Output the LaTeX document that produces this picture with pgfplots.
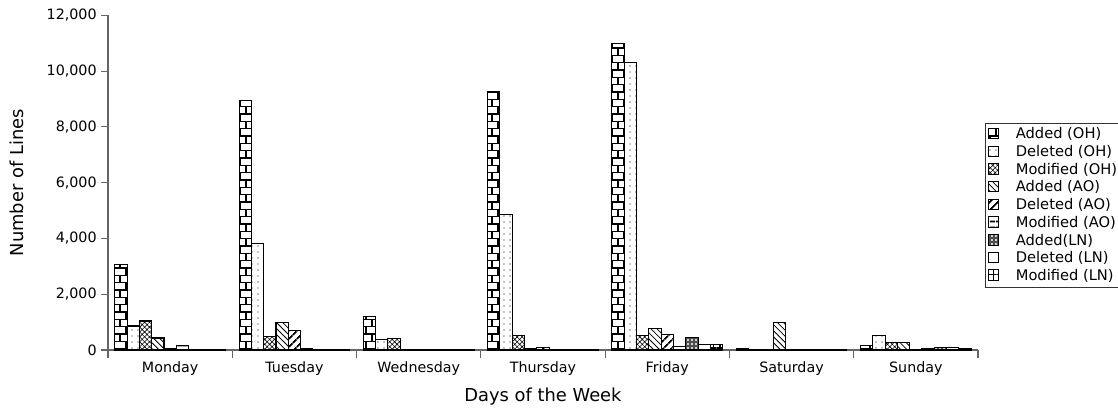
\documentclass[border=0pt]{standalone}
\usepackage{fontspec}
\setmainfont{DejaVu Sans}
\usepackage{pgfplots}
\usepackage{pgfplotstable}
\pgfplotsset{compat=1.18}
\usetikzlibrary{patterns,patterns.meta}

% brick fill for the first series
\tikzdeclarepattern{
  name=addbricks, type=uncolored,
  bottom left={(-0.1pt,-0.1pt)}, top right={(9.1pt,11.1pt)},
  tile size={(9pt,11pt)},
  code={
    \draw[line width=1.1pt] (-0.1pt,0.5pt)--(9.1pt,0.5pt) (-0.1pt,6pt)--(9.1pt,6pt)
      (4.5pt,0.5pt)--(4.5pt,6pt) (0.5pt,6pt)--(0.5pt,11.1pt) (8.5pt,6pt)--(8.5pt,11.1pt);
  }
}

% lines changed per weekday
\pgfplotstableread{
x AddOH DelOH ModOH AddAO DelAO ModAO AddLN DelLN ModLN
0 3050 860 1040 430 70 150 20 10 10
1 8960 3830 490 990 715 50 20 10 20
2 1200 380 420 10 5 20 20 10 10
3 9280 4870 530 40 100 30 10 5 5
4 11000 10320 530 780 560 120 455 190 200
5 40 5 5 1000 5 20 20 10 10
6 160 510 275 270 10 50 90 100 70
}\weekdata

\begin{document}
\begin{tikzpicture}
\path[use as bounding box] (-81pt,-43.5pt) rectangle (757.5pt,262.5pt);
\clip (-81pt,-43.5pt) rectangle (757.5pt,262.5pt);
\begin{axis}[
  at={(0,0)}, anchor=south west,
  width=652.5pt, height=251pt, scale only axis,
  ybar=0pt, bar width=0.099,
  xmin=-0.5, xmax=6.5, ymin=0, ymax=12000,
  xtick={0,...,6},
  xticklabels={Monday,Tuesday,Wednesday,Thursday,Friday,Saturday,Sunday},
  major x tick style={draw=none},
  minor xtick={-0.5,0.5,...,6.5},
  minor tick length=6pt,
  minor x tick style={draw=black!60, line width=0.8pt},
  ytick={0,2000,...,12000},
  scaled y ticks=false,
  yticklabel style={/pgf/number format/fixed, /pgf/number format/1000 sep={,}},
  /pgf/number format/assume math mode=true,
  axis x line*=bottom, axis y line*=left,
  axis line style={draw=black!60, line width=0.8pt},
  y tick style={draw=black!60, line width=0.8pt},
  tick align=outside, major tick length=5pt,
  ticklabel style={font=\fontsize{10.7}{12}\selectfont},
  xticklabel style={yshift=-0.5pt},
  xlabel={Days of the Week}, ylabel={Number of Lines},
  label style={font=\fontsize{13.4}{15}\selectfont},
  xlabel style={yshift=-2pt},
  ylabel style={yshift=10pt},
  legend style={at={(1.0085,0.433)}, anchor=west, draw=black!80,
    font=\fontsize{11}{13}\selectfont, row sep=-0.6pt, inner sep=1.5pt,
    cells={anchor=west}},
  legend image code/.code={
    \draw[#1, line width=0.7pt] (0.6pt,-3.4pt) rectangle (8.6pt,4.4pt);
    \path (19pt,0pt);},
  every axis plot/.append style={draw=black, line width=0.8pt},
]
\addplot[pattern=addbricks] table[x=x,y=AddOH] {\weekdata};
\addplot[pattern={Dots[distance=4.5pt, radius=0.55pt]}] table[x=x,y=DelOH] {\weekdata};
\addplot[pattern={Hatch[angle=45, distance=2.6pt, line width=0.45pt]}] table[x=x,y=ModOH] {\weekdata};
\addplot[pattern={Lines[angle=-45, distance=3.2pt, line width=0.6pt]}] table[x=x,y=AddAO] {\weekdata};
\addplot[pattern={Lines[angle=45, distance=4pt, line width=1.4pt]}] table[x=x,y=DelAO] {\weekdata};
\addplot[pattern={Lines[angle=0, distance=4pt, line width=1.5pt]}] table[x=x,y=ModAO] {\weekdata};
\addplot[fill=black!70, postaction={pattern={Dots[distance=3pt, radius=0.8pt]}, pattern color=white}] table[x=x,y=AddLN] {\weekdata};
\addplot[fill=white] table[x=x,y=DelLN] {\weekdata};
\addplot[pattern={Hatch[angle=0, distance=5pt, line width=1.1pt]}] table[x=x,y=ModLN] {\weekdata};
\legend{Added (OH),Deleted (OH),Modified (OH),Added (AO),Deleted (AO),Modified (AO),Added(LN),Deleted (LN),Modified (LN)}
\end{axis}
\end{tikzpicture}
\end{document}
